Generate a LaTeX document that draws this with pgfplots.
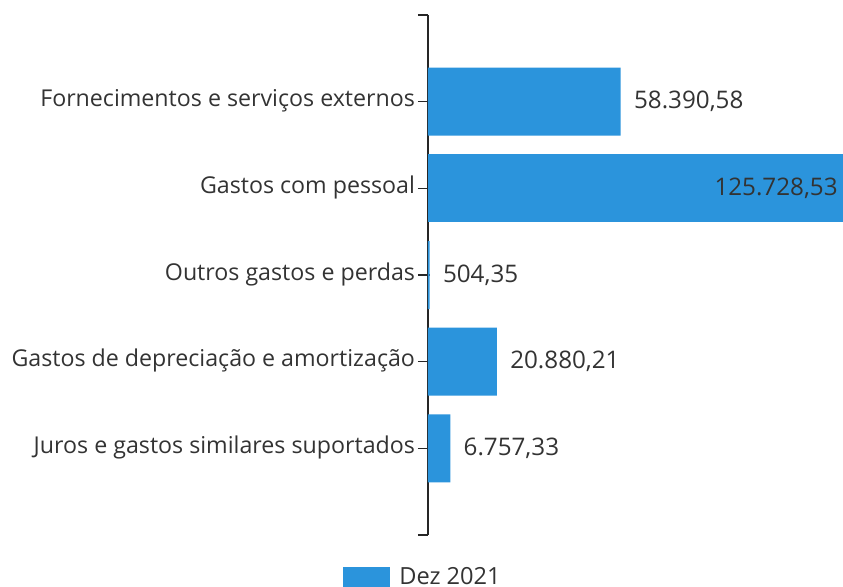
\documentclass[border=0pt]{standalone}
\usepackage{pgfplots}
\pgfplotsset{compat=1.18}
\usepackage{pgfplotstable}
\usepackage{fontspec}
\setmainfont{Open Sans}
\definecolor{barblue}{HTML}{2B94DC}
\definecolor{txt}{HTML}{333333}
\newcommand{\tk}{\hspace{2.5pt}\textcolor{black!85}{\rule[2.2pt]{5pt}{0.6pt}}}
\pgfplotstableread{
x y label
58390.58 0 58.390,58
504.35 2 504,35
20880.21 3 20.880,21
6757.33 4 6.757,33
}\datasmall
\pgfplotstableread{
x y label
125728.53 1 125.728,53
}\databig
\begin{document}
\begin{tikzpicture}
\path[use as bounding box] (-214pt,-26pt) rectangle (207.5pt,267.5pt);
\begin{axis}[
  at={(0pt,0pt)}, anchor=south west, scale only axis,
  width=207.5pt, height=260pt,
  xmin=0, xmax=125728.53,
  ymin=-1, ymax=5, y dir=reverse,
  axis lines*=left,
  x axis line style={draw=none},
  xtick=\empty,
  ytick={-1,0,1,2,3,4,5},
  yticklabels={,Fornecimentos e serviços externos\tk, Gastos com pessoal\tk, Outros gastos e perdas\tk, Gastos de depreciação e amortização\tk, Juros e gastos similares suportados\tk,},
  tick align=outside, major tick length=5pt,
  tick style={draw=black!85, line width=0.6pt},
  y axis line style={draw=black!85, line width=0.8pt},
  yticklabel style={font=\fontsize{11.6}{13}\selectfont, text=txt, anchor=east, inner xsep=0pt, text height=8pt, text depth=3pt, xshift=6.2pt},
  clip=false,
  legend style={draw=none, fill=none, at={(-0.0036,-0.0808)}, anchor=center, font=\fontsize{11.8}{13}\selectfont, text=txt,
    nodes={inner xsep=4.5pt}},
  legend image code/.code={\fill[barblue] (0pt,-5pt) rectangle (23.5pt,5pt);},
]
\addplot[xbar, bar width=34pt, bar shift=0pt, fill=barblue, draw=none, nodes near coords, point meta=explicit symbolic,
  every node near coord/.append style={anchor=west, inner sep=0pt, xshift=6.5pt, font=\fontsize{12.1}{14}\selectfont, text=txt}]
  table[x=x, y=y, meta=label]{\datasmall};
\addlegendentry{Dez 2021}
\addplot[xbar, bar width=34pt, bar shift=0pt, fill=barblue, draw=none, forget plot, nodes near coords, point meta=explicit symbolic,
  every node near coord/.append style={anchor=east, inner sep=0pt, xshift=-2.5pt, font=\fontsize{12.1}{14}\selectfont, text=txt}]
  table[x=x, y=y, meta=label]{\databig};
\end{axis}
\end{tikzpicture}
\end{document}
